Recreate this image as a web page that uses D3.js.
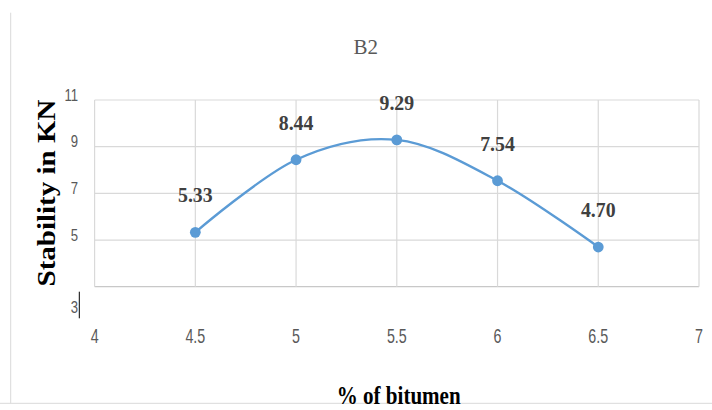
<!DOCTYPE html>
<html>
<head>
<meta charset="utf-8">
<script src="https://cdn.jsdelivr.net/npm/d3@7"></script>
<style>
  html, body { margin: 0; padding: 0; background: #fff; }
  svg { display: block; }
</style>
</head>
<body>
<svg id="chart" width="712" height="410"></svg>
<script>
// Marshall stability of mix B2 against bitumen content
const bitumen = [4.5, 5, 5.5, 6, 6.5];
const stability = [5.33, 8.44, 9.29, 7.54, 4.70];
const stabilityLabels = ["5.33", "8.44", "9.29", "7.54", "4.70"];
const xTicks = [4, 4.5, 5, 5.5, 6, 6.5, 7];
const yTicks = [3, 5, 7, 9, 11];

const svg = d3.select("#chart");

const x = d3.scaleLinear().domain([4, 7]).range([94.6, 699]);
const y = d3.scaleLinear().domain([3, 11]).range([286.7, 100]);

const gridColor = "#d9d9d9";
const tickColor = "#595959";
const serif = "'Liberation Serif', 'Times New Roman', serif";
const sans = "'Liberation Sans', Arial, sans-serif";

// chart frame (left edge and bottom edge)
svg.append("line").attr("x1", 10.7).attr("x2", 10.7).attr("y1", 12.7).attr("y2", 403.3)
  .attr("stroke", gridColor).attr("stroke-width", 1);
svg.append("line").attr("x1", 0).attr("x2", 712).attr("y1", 403.3).attr("y2", 403.3)
  .attr("stroke", gridColor).attr("stroke-width", 1);

// title
svg.append("text").attr("x", 365.8).attr("y", 54.3)
  .attr("text-anchor", "middle").attr("font-family", serif).attr("font-size", 21)
  .attr("fill", tickColor).text("B2");

// grid
const grid = svg.append("g");
grid.selectAll("line.h").data(yTicks).join("line").attr("class", "h")
  .attr("x1", x(4)).attr("x2", x(7))
  .attr("y1", d => y(d)).attr("y2", d => y(d))
  .attr("stroke", d => d === 3 ? "#c8c8c8" : gridColor).attr("stroke-width", 1.2);
grid.selectAll("line.v").data(xTicks).join("line").attr("class", "v")
  .attr("x1", d => x(d)).attr("x2", d => x(d))
  .attr("y1", y(11)).attr("y2", y(3))
  .attr("stroke", gridColor).attr("stroke-width", 1.2);

// y tick labels: baseline sits on the gridline; the lowest one drops below the axis
svg.append("g").selectAll("text").data(yTicks).join("text")
  .attr("transform", d => `translate(78,${d === 3 ? y(d) + 26.5 : y(d) + 0.5}) scale(0.82,1)`)
  .attr("text-anchor", "end").attr("font-family", sans).attr("font-size", 16)
  .attr("fill", tickColor).text(d => d);

// small vertical mark beside the lowest y label
svg.append("line").attr("x1", 79.3).attr("x2", 79.3).attr("y1", 291.7).attr("y2", 318.3)
  .attr("stroke", "#000").attr("stroke-width", 1);

// x tick labels
svg.append("g").selectAll("text").data(xTicks).join("text")
  .attr("transform", d => `translate(${x(d)},343) scale(0.68,1)`)
  .attr("text-anchor", "middle").attr("font-family", sans).attr("font-size", 21)
  .attr("fill", tickColor).text(d => d);

// axis titles
svg.append("text")
  .attr("transform", "translate(55,193) scale(0.87,1) rotate(-90)")
  .attr("text-anchor", "middle").attr("font-family", serif).attr("font-weight", "bold")
  .attr("font-size", 29).attr("fill", "#000").text("Stability in KN");

svg.append("text")
  .attr("transform", "translate(398.7,404) scale(0.81,1)")
  .attr("text-anchor", "middle").attr("font-family", serif).attr("font-weight", "bold")
  .attr("font-size", 26).attr("fill", "#000").text("% of bitumen");

// smoothed series line
const pts = bitumen.map((b, i) => [b, stability[i]]);
const line = d3.line().x(d => x(d[0])).y(d => y(d[1])).curve(d3.curveCardinal.tension(0));
svg.append("path").datum(pts).attr("d", line)
  .attr("fill", "none").attr("stroke", "#5B9BD5").attr("stroke-width", 2.4);

svg.append("g").selectAll("circle").data(pts).join("circle")
  .attr("cx", d => x(d[0])).attr("cy", d => y(d[1])).attr("r", 5.4)
  .attr("fill", "#5B9BD5");

// value labels
svg.append("g").selectAll("text").data(pts).join("text")
  .attr("transform", (d, i) => `translate(${x(d[0])},${y(d[1]) - 30}) scale(0.9,1)`)
  .attr("text-anchor", "middle").attr("font-family", serif).attr("font-weight", "bold")
  .attr("font-size", 22).attr("fill", "#404040").text((d, i) => stabilityLabels[i]);
</script>
</body>
</html>
